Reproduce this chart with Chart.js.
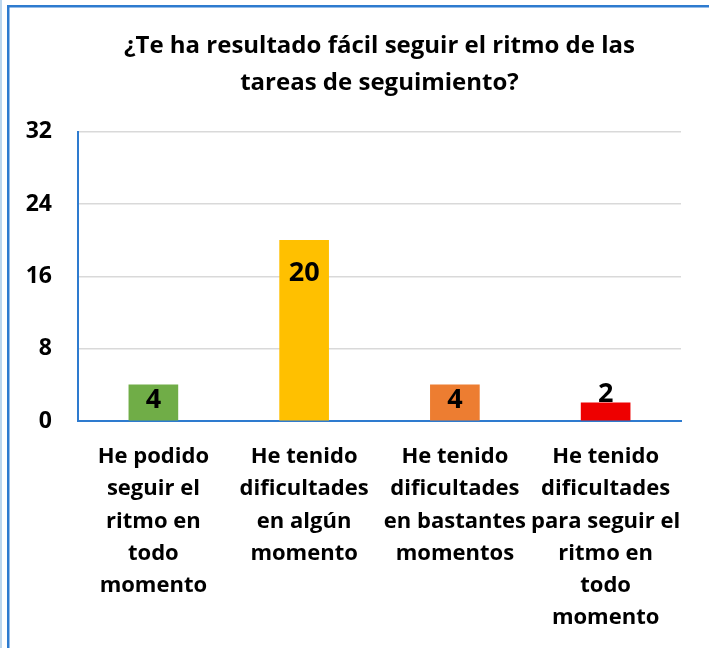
<!DOCTYPE html>
<html>
<head>
<meta charset="utf-8">
<script src="https://cdn.jsdelivr.net/npm/chart.js@4/dist/chart.umd.min.js"></script>
<style>
  html, body { margin: 0; padding: 0; background: #ffffff; }
  #wrap { position: relative; width: 709px; height: 648px; }
</style>
</head>
<body>
<div id="wrap"><canvas id="c" width="709" height="648"></canvas></div>
<script>
const titleLines = ['¿Te ha resultado fácil seguir el ritmo de las', 'tareas de seguimiento?'];
const categories = [
  ['He podido', 'seguir el', 'ritmo en', 'todo', 'momento'],
  ['He tenido', 'dificultades', 'en algún', 'momento'],
  ['He tenido', 'dificultades', 'en bastantes', 'momentos'],
  ['He tenido', 'dificultades', 'para seguir el', 'ritmo en', 'todo', 'momento']
];
const values = [4, 20, 4, 2];
const barColors = ['#70AD47', '#FFC000', '#ED7D31', '#EE0000'];
const yMin = 0, yMax = 32, yStep = 8;

const FONT = "'Open Sans', 'Liberation Sans', sans-serif";

const framePlugin = {
  id: 'frame',
  beforeDraw(chart) {
    const ctx = chart.ctx;
    ctx.save();
    ctx.fillStyle = '#ffffff';
    ctx.fillRect(0, 0, chart.width, chart.height);
    ctx.fillStyle = '#BDD7EE';
    ctx.fillRect(0, 0, 2, chart.height);
    ctx.fillStyle = '#2E7BCF';
    ctx.fillRect(7, 5, 2.5, chart.height - 5);
    ctx.fillRect(7, 5, chart.width - 7, 2.5);
    ctx.restore();
  }
};

const valueLabelPlugin = {
  id: 'valueLabels',
  afterDatasetsDraw(chart, args, opts) {
    const ctx = chart.ctx;
    const meta = chart.getDatasetMeta(0);
    ctx.save();
    ctx.font = 'bold ' + opts.size + 'px ' + FONT;
    ctx.fillStyle = '#000000';
    ctx.textAlign = 'center';
    ctx.textBaseline = 'middle';
    meta.data.forEach((bar, i) => {
      const v = chart.data.datasets[0].data[i];
      ctx.fillText(String(v), bar.x, bar.y + opts.offsets[i]);
    });
    ctx.restore();
  }
};

new Chart(document.getElementById('c'), {
  type: 'bar',
  data: {
    labels: categories,
    datasets: [{
      data: values,
      backgroundColor: barColors,
      borderWidth: 0,
      barThickness: 49
    }]
  },
  options: {
    responsive: false,
    animation: false,
    layout: { padding: { left: 0, right: 28, top: 0, bottom: 0 } },
    plugins: {
      legend: { display: false },
      tooltip: { enabled: false },
      title: {
        display: true,
        fullSize: false,
        text: titleLines,
        color: '#000000',
        font: { family: FONT, size: 24, weight: 'bold', lineHeight: 1.54 },
        padding: { top: 28, bottom: 30 }
      },
      valueLabels: { size: 27, offsets: [15, 33, 15, -9] }
    },
    scales: {
      x: {
        type: 'category',
        offset: true,
        grid: { display: false, drawTicks: false },
        border: { display: true, color: '#2E7BCF', width: 2 },
        ticks: {
          color: '#000000',
          autoSkip: false,
          maxRotation: 0,
          minRotation: 0,
          padding: 20,
          font: { family: FONT, size: 22, weight: 'bold', lineHeight: 1.46 }
        },
        afterFit(scale) { scale.height = 227; }
      },
      y: {
        min: yMin,
        max: yMax,
        grid: {
          drawTicks: false,
          color: (c) => (c.tick && c.tick.value === 0 ? 'rgba(0,0,0,0)' : '#D9D9D9'),
          lineWidth: 1.5
        },
        border: { display: true, color: '#2E7BCF', width: 2 },
        ticks: {
          stepSize: yStep,
          color: '#000000',
          padding: 26,
          font: { family: FONT, size: 23, weight: 'bold' }
        },
        afterFit(scale) { scale.width = 78; }
      }
    }
  },
  plugins: [framePlugin, valueLabelPlugin]
});
</script>
</body>
</html>
